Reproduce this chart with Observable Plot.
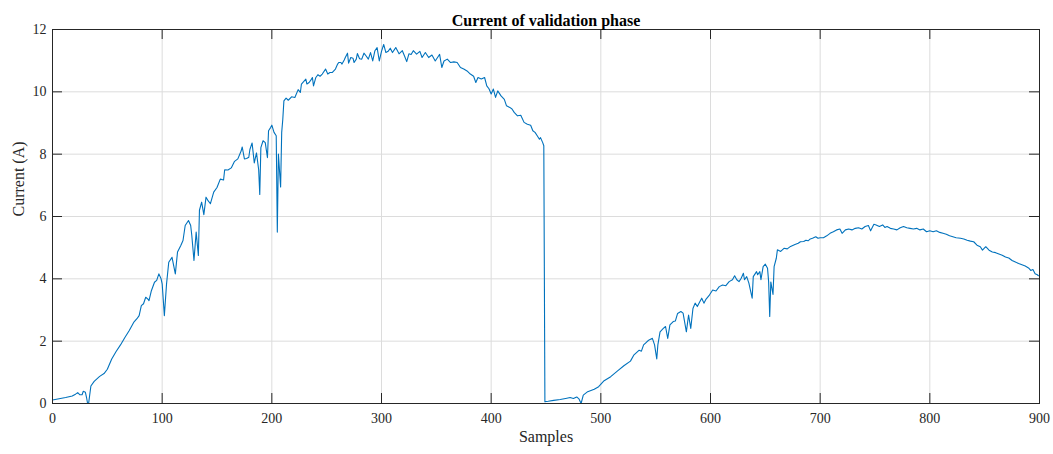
<!DOCTYPE html>
<html>
<head>
<meta charset="utf-8">
<script src="https://cdn.jsdelivr.net/npm/d3@7"></script>
<script src="https://cdn.jsdelivr.net/npm/@observablehq/plot@0.6"></script>
<style>
  html, body { margin: 0; padding: 0; background: #fff; }
</style>
</head>
<body>
<div id="chart"></div>
<script>
const titleText = "Current of validation phase";
const xLabel = "Samples";
const yLabel = "Current (A)";
const xTicks = [0, 100, 200, 300, 400, 500, 600, 700, 800, 900];
const yTicks = [0, 2, 4, 6, 8, 10, 12];

const samples = [
  0, 6, 12, 18, 21, 23, 25, 27, 28, 30, 31, 32, 33, 35, 38, 43, 47, 50, 54, 58,
  62, 66, 70, 74, 77, 79, 81, 83, 85, 87, 88, 90, 93, 95, 97, 99, 100, 102, 104, 106,
  109, 112, 114, 117, 119, 121, 124, 126, 127, 129, 131, 133, 134, 136, 138, 140, 142, 144, 147, 150,
  153, 156, 157, 160, 163, 166, 169, 172, 173, 175, 177, 179, 180, 182, 184, 186, 188, 189, 190, 192,
  194, 196, 197, 199, 200, 202, 204, 205, 206, 208, 209, 210, 211, 213, 215, 218, 221, 224, 226, 227,
  229, 231, 232, 234, 236, 237, 238, 240, 242, 244, 246, 249, 251, 253, 255, 258, 260, 261, 263, 264,
  266, 267, 269, 270, 272, 274, 275, 277, 278, 280, 282, 284, 286, 288, 290, 292, 294, 296, 298, 300,
  302, 304, 306, 308, 310, 313, 316, 319, 321, 323, 325, 327, 329, 332, 335, 337, 340, 343, 346, 349,
  352, 353, 355, 357, 360, 363, 366, 369, 372, 375, 378, 381, 384, 386, 388, 391, 394, 396, 398, 400,
  402, 404, 406, 409, 412, 414, 417, 419, 421, 424, 427, 430, 433, 436, 438, 440, 442, 444, 445, 447,
  448, 449, 452, 457, 463, 469, 472, 475, 478, 480, 482, 484, 488, 494, 498, 503, 509, 515, 521, 527,
  530, 535, 537, 539, 542, 544, 547, 549, 551, 552, 554, 557, 559, 561, 563, 566, 568, 570, 573, 575,
  578, 580, 582, 584, 586, 588, 590, 592, 594, 596, 599, 602, 605, 608, 611, 614, 617, 620, 622, 624,
  626, 628, 630, 631, 633, 635, 638, 639, 642, 643, 645, 646, 648, 650, 652, 653, 654, 655, 657, 658,
  660, 661, 664, 667, 670, 673, 677, 680, 682, 685, 687, 689, 691, 693, 696, 698, 700, 703, 706, 709,
  712, 715, 718, 720, 723, 726, 729, 732, 735, 738, 741, 744, 746, 749, 751, 754, 757, 759, 761, 764,
  767, 770, 773, 776, 779, 782, 785, 788, 791, 794, 797, 800, 803, 806, 809, 812, 815, 818, 821, 824,
  828, 831, 834, 837, 840, 843, 846, 848, 851, 854, 857, 860, 863, 866, 869, 872, 875, 878, 881, 884,
  887, 890, 892, 894, 896, 898, 899
];

const current = [
  0.11, 0.15, 0.19, 0.24, 0.30, 0.35, 0.28, 0.28, 0.39, 0.36, 0.20, 0.00, 0.02, 0.56, 0.71, 0.87, 0.96, 1.10, 1.43, 1.67,
  1.88, 2.12, 2.34, 2.60, 2.72, 2.82, 3.14, 3.20, 3.41, 3.35, 3.30, 3.60, 3.89, 3.95, 4.16, 4.00, 3.84, 2.82, 3.84, 4.53,
  4.69, 4.16, 4.86, 5.07, 5.23, 5.71, 5.87, 5.71, 5.40, 4.59, 5.50, 4.75, 6.20, 6.46, 6.06, 6.62, 6.50, 6.41, 6.78, 6.93,
  7.20, 7.17, 7.50, 7.49, 7.56, 7.77, 7.85, 8.10, 8.23, 7.85, 7.86, 7.90, 8.15, 8.36, 7.72, 8.04, 7.50, 6.71, 8.21, 8.43,
  8.37, 7.89, 8.75, 8.86, 8.93, 8.70, 8.59, 5.50, 8.00, 6.95, 8.70, 9.12, 9.71, 9.80, 9.73, 9.84, 9.82, 10.07, 9.98, 10.25,
  10.33, 10.41, 10.25, 10.30, 10.40, 10.46, 10.19, 10.45, 10.55, 10.50, 10.57, 10.73, 10.57, 10.62, 10.62, 10.73, 10.89, 10.94, 10.94, 10.89,
  11.02, 11.10, 11.24, 10.92, 11.10, 11.08, 10.94, 11.05, 11.23, 11.06, 11.05, 11.24, 11.15, 11.05, 11.26, 10.99, 11.32, 11.42, 10.99, 11.30,
  11.52, 11.26, 11.30, 11.40, 11.26, 11.42, 11.22, 11.32, 11.15, 10.97, 11.22, 11.20, 11.32, 11.21, 11.30, 11.10, 11.26, 11.10, 11.18, 10.99,
  11.15, 11.20, 10.78, 10.99, 11.05, 10.94, 10.96, 10.94, 10.78, 10.73, 10.67, 10.57, 10.50, 10.30, 10.46, 10.41, 10.46, 10.19, 10.10, 9.93,
  10.09, 9.82, 10.03, 9.87, 9.76, 9.55, 9.50, 9.45, 9.34, 9.23, 9.25, 9.02, 8.96, 8.93, 8.75, 8.70, 8.59, 8.48, 8.53, 8.37,
  8.27, 0.06, 0.07, 0.10, 0.13, 0.17, 0.19, 0.16, 0.21, 0.15, 0.00, 0.27, 0.38, 0.46, 0.54, 0.73, 0.86, 1.04, 1.21, 1.36,
  1.55, 1.71, 1.68, 1.88, 1.98, 2.04, 2.09, 1.88, 1.43, 1.88, 2.30, 2.41, 2.47, 2.09, 2.52, 2.63, 2.65, 2.89, 2.95, 2.90,
  2.30, 2.84, 2.41, 3.05, 3.22, 3.11, 3.25, 3.38, 3.22, 3.35, 3.48, 3.64, 3.61, 3.75, 3.80, 3.78, 3.91, 3.97, 4.10, 3.97,
  3.91, 4.02, 4.18, 3.97, 4.07, 3.86, 3.38, 4.07, 4.23, 4.13, 4.23, 3.97, 4.39, 4.47, 4.34, 3.91, 2.79, 3.90, 3.50, 4.39,
  4.66, 4.93, 4.88, 4.98, 4.96, 5.04, 5.10, 5.14, 5.19, 5.20, 5.24, 5.22, 5.28, 5.30, 5.35, 5.30, 5.32, 5.32, 5.38, 5.46,
  5.51, 5.57, 5.60, 5.46, 5.57, 5.60, 5.57, 5.62, 5.64, 5.60, 5.68, 5.71, 5.54, 5.75, 5.73, 5.68, 5.73, 5.65, 5.68, 5.62,
  5.60, 5.57, 5.64, 5.68, 5.64, 5.62, 5.60, 5.62, 5.57, 5.60, 5.51, 5.54, 5.51, 5.54, 5.49, 5.46, 5.43, 5.38, 5.35, 5.32,
  5.30, 5.28, 5.24, 5.21, 5.19, 5.08, 5.03, 4.92, 5.03, 4.92, 4.86, 4.84, 4.80, 4.76, 4.70, 4.67, 4.59, 4.54, 4.49, 4.45,
  4.41, 4.35, 4.27, 4.30, 4.16, 4.13, 4.10
];

const W = 1053, H = 454;
const mL = 52, mR = 14, mT = 29, mB = 51;
const pw = W - mL - mR, ph = H - mT - mB;
const ink = "#262626";
const tick = 10;

const chart = Plot.plot({
  width: W,
  height: H,
  marginLeft: mL,
  marginRight: mR,
  marginTop: mT,
  marginBottom: mB,
  style: {
    fontFamily: "'Liberation Serif', 'Times New Roman', serif",
    background: "#fff",
    color: ink
  },
  x: { domain: [0, 900] },
  y: { domain: [0, 12] },
  marks: [
    Plot.gridX(xTicks, { stroke: "#dcdcdc", strokeOpacity: 1 }),
    Plot.gridY(yTicks, { stroke: "#dcdcdc", strokeOpacity: 1 }),
    Plot.line(samples.map((_, i) => i), {
      x: i => samples[i], y: i => current[i],
      stroke: "#0072BD", strokeWidth: 1.1, curve: "linear"
    }),
    Plot.tickX(xTicks, { x: d => d, insetTop: ph - tick, stroke: ink }),
    Plot.tickX(xTicks, { x: d => d, insetBottom: ph - tick, stroke: ink }),
    Plot.tickY(yTicks, { y: d => d, insetRight: pw - tick, stroke: ink }),
    Plot.tickY(yTicks, { y: d => d, insetLeft: pw - tick, stroke: ink }),
    Plot.frame({ stroke: ink, strokeWidth: 1 }),
    Plot.axisX(xTicks, { tickSize: 0, tickPadding: 10, fontSize: 14, label: null, fill: ink }),
    Plot.axisY(yTicks, { tickSize: 0, tickPadding: 6, fontSize: 14, label: null, fill: ink }),
    Plot.text([xLabel], { text: d => d, frameAnchor: "bottom", dy: 38, fontSize: 16, fill: ink }),
    Plot.text([yLabel], { text: d => d, frameAnchor: "left", dx: -34, rotate: -90, fontSize: 16, fill: ink }),
    Plot.text([titleText], { text: d => d, frameAnchor: "top", dy: -15, fontSize: 16, fontWeight: "bold", fill: "#000" })
  ]
});

document.getElementById("chart").appendChild(chart);
</script>
</body>
</html>
